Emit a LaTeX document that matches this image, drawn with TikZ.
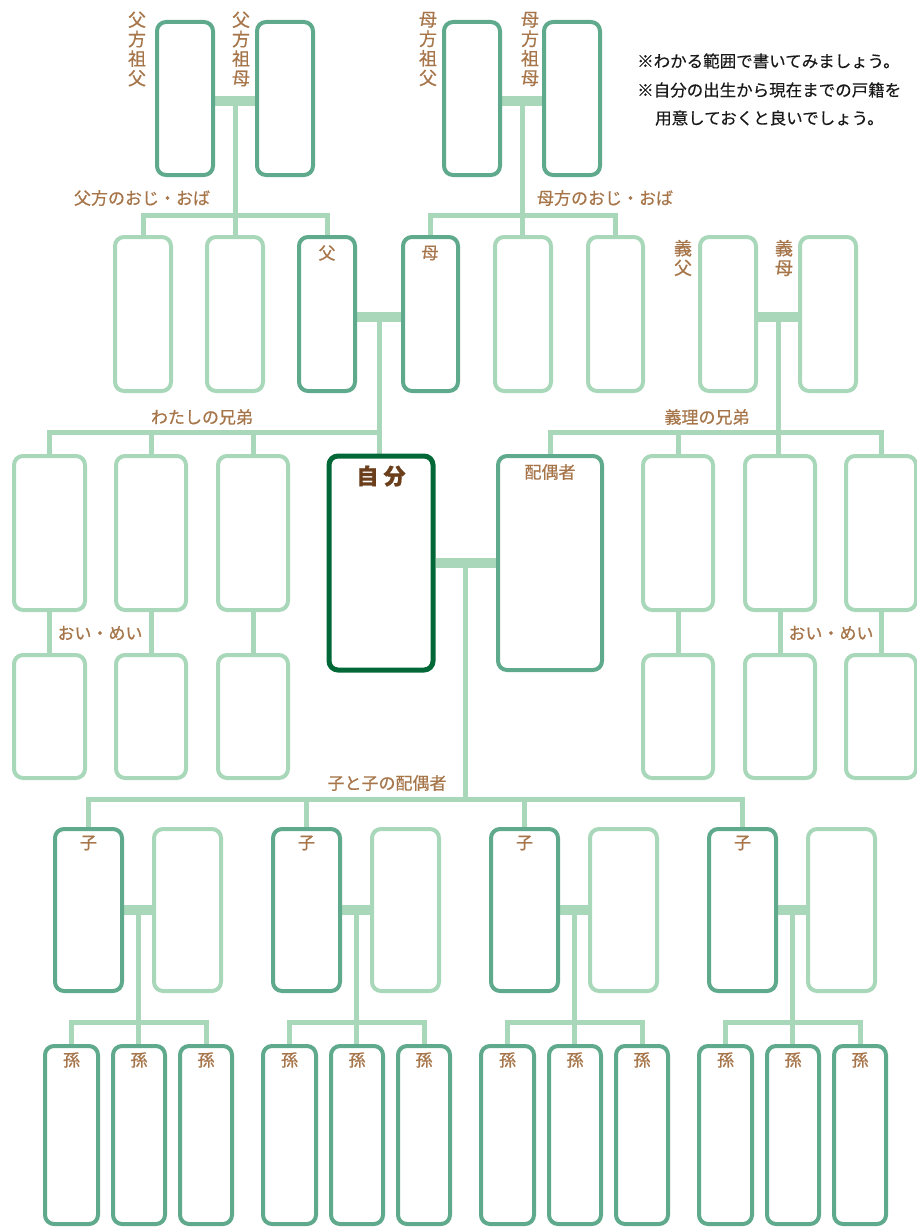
\documentclass[tikz,border=0pt]{standalone}
\usepackage{fontspec}
\newfontfamily\jp{Noto Sans CJK JP}[FakeBold=0.6]
\newfontfamily\jpn{Noto Sans CJK JP}[FakeBold=0.3]
\usetikzlibrary{calc}
\definecolor{lt}{HTML}{A8D8B9}
\definecolor{tl}{HTML}{5FAA8C}
\definecolor{dk}{HTML}{006837}
\definecolor{br}{HTML}{A6754A}
\definecolor{dbr}{HTML}{6B3E1C}
\pgfdeclarelayer{bg}\pgfsetlayers{bg,main}
% style, name, x1, y1, x2, y2 (outer edges, px)
\newcommand\mybox[6]{%
  \pgfmathsetmacro\bw{(#5)-(#3)-4}\pgfmathsetmacro\bh{(#6)-(#4)-4}%
  \pgfmathsetmacro\bx{((#3)+(#5))/2}\pgfmathsetmacro\by{((#4)+(#6))/2}%
  \node[#1, minimum width=\bw pt, minimum height=\bh pt] (#2) at (\bx,\by) {};}
\begin{document}
\begin{tikzpicture}[x=1pt,y=-1pt,
  fb/.style={draw=#1, line width=4pt, fill=white, rounded corners=9pt, inner sep=0pt},
  conn/.style={draw=lt, line width=5pt},
  bar/.style={draw=lt, line width=10pt},
  lbl/.style={text=br, font=\jp\fontsize{17}{19.5}\selectfont, inner sep=0pt},
  vl/.style={lbl, align=center, font=\jp\fontsize{18}{19.5}\selectfont},
  note/.style={text=black!90, font=\jpn\fontsize{16.5}{20}\selectfont, inner sep=0pt, anchor=west}]
\useasboundingbox (0,0) rectangle (917,1228);
% grandparents
\mybox{fb=tl}{gf1}{155}{20}{215}{177}
\mybox{fb=tl}{gm1}{255}{20}{315}{177}
\mybox{fb=tl}{gf2}{442}{20}{502}{177}
\mybox{fb=tl}{gm2}{542}{20}{602}{177}
% parents row
\mybox{fb=lt}{u1}{113}{235}{173}{393}
\mybox{fb=lt}{u2}{205}{235}{265}{393}
\mybox{fb=tl}{fa}{297}{235}{357}{393}
\mybox{fb=tl}{mo}{401}{235}{460}{393}
\mybox{fb=lt}{u3}{493}{235}{553}{393}
\mybox{fb=lt}{u4}{586}{235}{645}{393}
\mybox{fb=lt}{ifa}{698}{235}{758}{393}
\mybox{fb=lt}{imo}{798}{235}{858}{393}
% siblings row
\mybox{fb=lt}{s1}{12}{454}{87}{612}
\mybox{fb=lt}{s2}{114}{454}{188}{612}
\mybox{fb=lt}{s3}{216}{454}{290}{612}
\mybox{fb=dk, line width=5pt}{me}{327}{454}{435}{672}
\mybox{fb=tl}{sp}{496}{454}{604}{672}
\mybox{fb=lt}{is1}{641}{454}{715}{612}
\mybox{fb=lt}{is2}{743}{454}{817}{612}
\mybox{fb=lt}{is3}{844}{454}{918}{612}
% nephews
\mybox{fb=lt}{n1}{12}{653}{87}{780}
\mybox{fb=lt}{n2}{114}{653}{188}{780}
\mybox{fb=lt}{n3}{216}{653}{290}{780}
\mybox{fb=lt}{in1}{641}{653}{715}{780}
\mybox{fb=lt}{in2}{743}{653}{817}{780}
\mybox{fb=lt}{in3}{844}{653}{918}{780}
% children and grandchildren
\foreach \k in {0,1,2,3}{
  \pgfmathsetmacro\o{218*\k}
  \mybox{fb=tl}{c\k}{53+\o}{827}{124+\o}{993}
  \mybox{fb=lt}{cs\k}{152+\o}{827}{223+\o}{993}
  \mybox{fb=tl}{g\k a}{43+\o}{1044}{100+\o}{1226}
  \mybox{fb=tl}{g\k b}{111+\o}{1044}{167+\o}{1226}
  \mybox{fb=tl}{g\k c}{178+\o}{1044}{234+\o}{1226}
  \node[lbl] at (c\k.north) [yshift=-16pt] {子};
  \node[lbl] at (g\k a.north) [yshift=-16pt] {孫};
  \node[lbl] at (g\k b.north) [yshift=-16pt] {孫};
  \node[lbl] at (g\k c.north) [yshift=-16pt] {孫};
}
% level coordinates
\coordinate (pL) at (0,215);
\coordinate (sL) at (0,432);
\coordinate (cL) at (0,799);
\coordinate (gL) at (0,1022);
\begin{pgfonlayer}{bg}
  % paternal grandparents
  \draw[bar] ([yshift=-3pt]gf1.east) -- ([yshift=-3pt]gm1.west);
  \coordinate (pgc) at ($([yshift=-3pt]gf1.east)!.5!([yshift=-3pt]gm1.west)$);
  \draw[conn] (pgc) -- (pgc |- u2.north);
  \draw[conn] (u1.north) -- (u1.north |- pL) -- (fa.north |- pL) -- (fa.north);
  % maternal grandparents
  \draw[bar] ([yshift=-3pt]gf2.east) -- ([yshift=-3pt]gm2.west);
  \coordinate (mgc) at ($([yshift=-3pt]gf2.east)!.5!([yshift=-3pt]gm2.west)$);
  \draw[conn] (mgc) -- (mgc |- u3.north);
  \draw[conn] (mo.north) -- (mo.north |- pL) -- (u4.north |- pL) -- (u4.north);
  % parents
  \draw[bar] ([yshift=-3pt]fa.east) -- ([yshift=-3pt]mo.west);
  \coordinate (pc) at ($([yshift=-3pt]fa.east)!.5!([yshift=-3pt]mo.west)$);
  \draw[conn] (pc) -- (pc |- me.north);
  \draw[conn] (s1.north) -- (s1.north |- sL) -- (pc |- sL);
  \draw[conn] (s2.north) -- (s2.north |- sL);
  \draw[conn] (s3.north) -- (s3.north |- sL);
  % in-laws
  \draw[bar] ([yshift=-3pt]ifa.east) -- ([yshift=-3pt]imo.west);
  \coordinate (ic) at ($([yshift=-3pt]ifa.east)!.5!([yshift=-3pt]imo.west)$);
  \draw[conn] (ic) -- (ic |- is2.north);
  \draw[conn] (sp.north) -- (sp.north |- sL) -- (is3.north |- sL) -- (is3.north);
  \draw[conn] (is1.north) -- (is1.north |- sL);
  % nephews
  \draw[conn] (s1.south) -- (n1.north);
  \draw[conn] (s2.south) -- (n2.north);
  \draw[conn] (s3.south) -- (n3.north);
  \draw[conn] (is1.south) -- (in1.north);
  \draw[conn] (is2.south) -- (in2.north);
  \draw[conn] (is3.south) -- (in3.north);
  % me & spouse
  \draw[bar] (me.east) -- (sp.west);
  \coordinate (mc) at ($(me.east)!.5!(sp.west)$);
  \draw[conn] (mc) -- (mc |- cL);
  \draw[conn] (c0.north) -- (c0.north |- cL) -- (c3.north |- cL) -- (c3.north);
  \draw[conn] (c1.north) -- (c1.north |- cL);
  \draw[conn] (c2.north) -- (c2.north |- cL);
  % children
  \foreach \k in {0,1,2,3}{
    \draw[bar] (c\k.east) -- (cs\k.west);
    \coordinate (cc\k) at ($(c\k.east)!.5!(cs\k.west)$);
    \draw[conn] (cc\k) -- (cc\k |- g\k b.north);
    \draw[conn] (g\k a.north) -- (g\k a.north |- gL) -- (g\k c.north |- gL) -- (g\k c.north);
  }
\end{pgfonlayer}
% labels
\node[vl] at (137,49) {父\\方\\祖\\父};
\node[vl] at (241,49) {父\\方\\祖\\母};
\node[vl] at (428,49) {母\\方\\祖\\父};
\node[vl] at (530,49) {母\\方\\祖\\母};
\node[lbl] at (142,198) {父方のおじ・おば};
\node[lbl] at (605,198) {母方のおじ・おば};
\node[lbl] at (327,253) {父};
\node[lbl] at (430,253) {母};
\node[vl] at (683,258) {義\\父};
\node[vl] at (784,258) {義\\母};
\node[lbl] at (202,417) {わたしの兄弟};
\node[lbl] at (707,417) {義理の兄弟};
\node[lbl, text=dbr, font=\jp\bfseries\fontsize{22}{24}\selectfont] at (381,476) {自\hspace{5pt}分};
\node[lbl] at (550,472) {配偶者};
\node[lbl] at (100,633) {おい・めい};
\node[lbl] at (831,633) {おい・めい};
\node[lbl] at (387,783) {子と子の配偶者};
% note
\node[note] at (637,61) {※わかる範囲で書いてみましょう。};
\node[note] at (637,90) {※自分の出生から現在までの戸籍を};
\node[note] at (655,118) {用意しておくと良いでしょう。};
\end{tikzpicture}
\end{document}
